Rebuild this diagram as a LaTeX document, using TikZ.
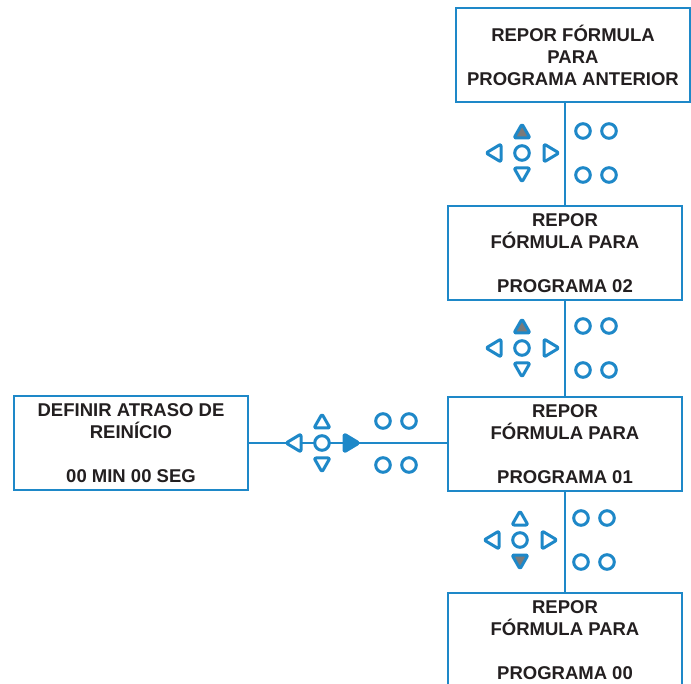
\documentclass[tikz,border=0pt]{standalone}
\usepackage{fontspec}
\setmainfont{Liberation Sans}
\definecolor{kblue}{RGB}{30,136,200}
\definecolor{ktext}{RGB}{35,31,32}
\definecolor{kgray}{RGB}{122,122,122}
\newcommand\keypad[5]{%
  \begin{scope}[shift={(#1,#2)}]
    \draw[key] (0,0) circle[radius=7.3];
    \draw[key,fill=#3] (0,-29) -- (8,-15) -- (-8,-15) -- cycle;
    \draw[key,fill=#4] (0,29) -- (8,15) -- (-8,15) -- cycle;
    \draw[key] (-36,0) -- (-21,-9) -- (-21,9) -- cycle;
    \draw[key,fill=#5] (37,0) -- (22,-9) -- (22,9) -- cycle;
    \draw[key] (61,-22) circle[radius=7.3];
    \draw[key] (87,-22) circle[radius=7.3];
    \draw[key] (61,22) circle[radius=7.3];
    \draw[key] (87,22) circle[radius=7.3];
  \end{scope}}
\begin{document}
\begin{tikzpicture}[x=1pt,y=-1pt,
  screen/.style={draw=kblue, line width=2.4pt, fill=white, minimum width=234pt,
    minimum height=94pt, inner sep=0pt, align=center,
    font=\fontsize{18.5}{22}\selectfont\bfseries, text=ktext},
  conn/.style={draw=kblue, line width=2.4pt},
  key/.style={draw=kblue, line width=3pt, fill=white, rounded corners=2pt, line join=round},
]
\useasboundingbox (0,0) rectangle (691,684);
\node[screen] (b1) at (573,55) {REPOR FÓRMULA\\PARA\\PROGRAMA ANTERIOR};
\node[screen] (b2) at (565,253) {REPOR\\FÓRMULA PARA\\[22pt]PROGRAMA 02};
\node[screen] (b3) at (565,444) {REPOR\\FÓRMULA PARA\\[22pt]PROGRAMA 01};
\node[screen] (b4) at (565,640) {REPOR\\FÓRMULA PARA\\[22pt]PROGRAMA 00};
\node[screen] (left) at (131,443) {DEFINIR ATRASO DE\\REINÍCIO\\[22pt]00 MIN 00 SEG};
\draw[conn] (b1.south -| b2.north) -- (b2.north);
\draw[conn] (b2.south) -- (b3.north);
\draw[conn] (b3.south) -- (b4.north);
\draw[conn] (left.east) -- (left.east -| b3.west);
\keypad{522}{153}{kgray}{white}{white}
\keypad{522}{348}{kgray}{white}{white}
\keypad{520}{540}{white}{kgray}{white}
\keypad{322}{443}{white}{white}{kblue}
\end{tikzpicture}
\end{document}
